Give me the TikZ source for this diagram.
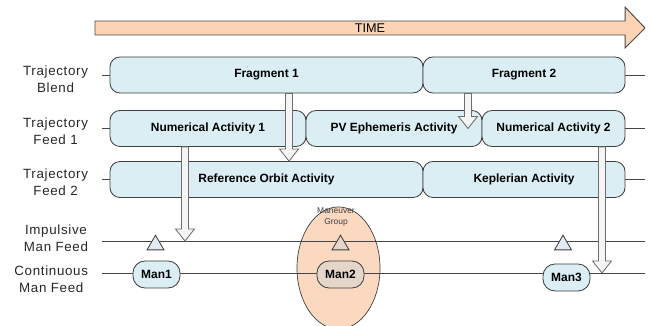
\documentclass[tikz,border=0pt]{standalone}
\usepackage{fontspec}
\setmainfont{Liberation Sans}
\newfontfamily\labfont[LetterSpace=5]{Liberation Sans}
\usetikzlibrary{calc,shapes.geometric}

\definecolor{boxblue}{RGB}{218,238,243}
\definecolor{timepeach}{RGB}{251,212,182}
\definecolor{grouppeach}{RGB}{251,216,192}
\definecolor{mantan}{RGB}{228,214,200}
\definecolor{trifill}{RGB}{226,234,246}
\definecolor{edgegray}{RGB}{64,64,64}
\definecolor{linegray}{RGB}{70,70,70}
\definecolor{hollowgray}{RGB}{110,110,110}

% one pixel of the sketch
\newcommand{\pxu}{0.025cm}

% hollow down arrow from #1 to tip #2
\newcommand{\hollowdown}[2]{%
  \draw[hollow] let \p1=#1, \p2=#2 in
    (\x1-3.5*\pxu,\y1) -- (\x1-3.5*\pxu,\y2+12*\pxu) -- (\x1-9.5*\pxu,\y2+12*\pxu)
    -- (\x1,\y2) -- (\x1+9.5*\pxu,\y2+12*\pxu) -- (\x1+3.5*\pxu,\y2+12*\pxu)
    -- (\x1+3.5*\pxu,\y1) -- cycle;}

\begin{document}
\begin{tikzpicture}[x=\pxu, y=-\pxu,
    blk/.style={draw=edgegray, fill=boxblue, line width=0.6pt, rounded corners=0.25cm,
      minimum height=0.9cm, inner sep=0pt, font=\fontsize{8.5}{10}\selectfont\bfseries},
    man/.style={draw=edgegray, fill=boxblue, line width=0.6pt, rounded corners=0.3cm,
      minimum width=1.175cm, minimum height=0.675cm, inner sep=0pt,
      font=\fontsize{8.5}{10}\selectfont\bfseries},
    tri/.style={regular polygon, regular polygon sides=3, draw=edgegray, fill=trifill,
      line width=0.6pt, minimum size=0.49cm, inner sep=0pt},
    lab/.style={anchor=east, align=center, text=black!85, font=\labfont\fontsize{9.5}{12}\selectfont},
    tline/.style={draw=linegray, line width=0.7pt},
    hollow/.style={draw=hollowgray, fill=gray!8, line width=0.6pt}]

    % page frame
    \clip (0,0) rectangle (651,326);

    % maneuver group
    \node[ellipse, draw=edgegray, fill=grouppeach, line width=0.5pt,
      minimum width=2.075cm, minimum height=3.05cm] (mgroup) at (338.5,268) {};

    % time arrow
    \draw[draw=black!70, fill=timepeach, line width=0.7pt]
      (95,21) -- (625,21) -- (625,7) -- (645,28) -- (625,48) -- (625,35) -- (95,35) -- cycle;
    \node[font=\fontsize{9}{10}\selectfont] (timelbl) at (370,28) {TIME};

    % feed lines
    \coordinate (imp-l) at (102,241);
    \coordinate (imp-r) at (645,241);
    \coordinate (cont-l) at (102,273);
    \coordinate (cont-r) at (645,273);
    \draw[tline] (imp-l) -- (imp-r);
    \draw[tline] (cont-l) -- (cont-r);

    % trajectory blend
    \node[blk, minimum width=7.825cm] (frag1) at (266.5,75) {Fragment 1};
    \node[blk, minimum width=5.05cm] (frag2) at (524,75) {Fragment 2};
    % trajectory feed 1
    \node[blk, minimum width=4.9cm] (num1) at (208,128.5) {Numerical Activity 1};
    \node[blk, minimum width=4.4cm] (pv) at (394,128.5) {PV Ephemeris Activity};
    \node[blk, minimum width=3.575cm] (num2) at (553.5,128.5) {Numerical Activity 2};
    % trajectory feed 2
    \node[blk, minimum width=7.825cm] (refo) at (266.5,179.5) {Reference Orbit Activity};
    \node[blk, minimum width=5.05cm] (kepl) at (524,179.5) {Keplerian Activity};

    % row stubs
    \foreach \l/\r in {frag1/frag2, num1/num2, refo/kepl} {
      \draw[tline] (\l.west) -- ++(-8,0);
      \draw[tline] (\r.east) -- ++(20,0);
    }

    % impulsive maneuvers
    \node[tri] (tri1) at (155.5,245) {};
    \node[tri, fill=mantan] (tri2) at (340.5,245) {};
    \node[tri] (tri3) at (563,245) {};

    % continuous maneuvers
    \node[man] (man1) at (156.5,274.5) {Man1};
    \node[man, fill=mantan] (man2) at (340.5,274.5) {Man2};
    \node[man] (man3) at (566.5,277.5) {Man3};

    \node[align=center, text=black!75, font=\fontsize{6}{7.5}\selectfont] (mglbl) at (336,217) {Maneuver\\Group};

    % row labels
    \node[lab] (lblend) at (93,79) {Trajectory\\Blend};
    \node[lab] (lfeed1) at (93,131) {Trajectory\\Feed 1};
    \node[lab] (lfeed2) at (93,182) {Trajectory\\Feed 2};
    \node[lab] (limp) at (93,238.5) {Impulsive\\Man Feed};
    \node[lab] (lcont) at (93,279) {Continuous\\Man Feed};

    % feeds between levels
    \coordinate (a1top) at ($(frag1.south)+(22.5,0)$);
    \coordinate (a2top) at ($(frag2.south)+(-56,0)$);
    \coordinate (a3top) at ($(num1.south)+(-23,0)$);
    \coordinate (a4top) at ($(num2.south)+(48.5,0)$);
    \hollowdown{(a1top)}{(a1top |- refo.north)}
    \hollowdown{(a2top)}{(a2top |- pv.center)}
    \hollowdown{(a3top)}{(a3top |- imp-l)}
    \hollowdown{(a4top)}{(a4top |- cont-l)}

\end{tikzpicture}
\end{document}
